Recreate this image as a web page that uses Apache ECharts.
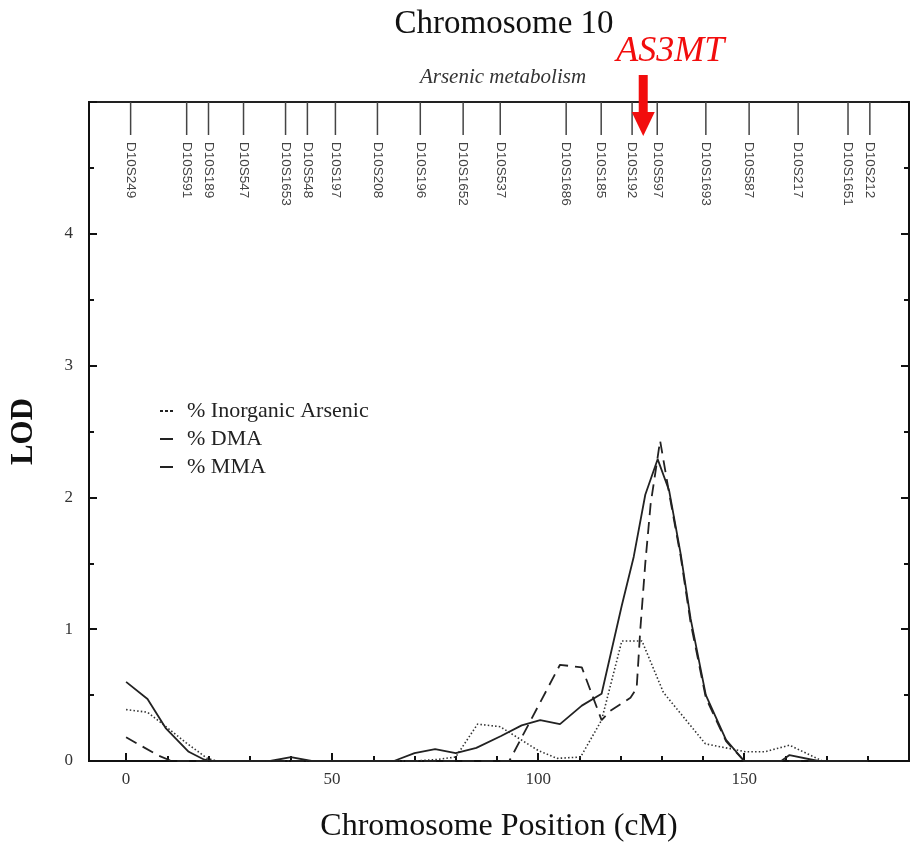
<!DOCTYPE html>
<html>
<head>
<meta charset="utf-8">
<script src="https://cdn.jsdelivr.net/npm/echarts@6/dist/echarts.min.js"></script>
<style>html,body{margin:0;padding:0;background:#fff;}#main{width:922px;height:848px;}</style>
</head>
<body>
<div id="main"></div>
<script>
// ---- data ----
const seriesNames = ['% Inorganic Arsenic', '% DMA', '% MMA'];
const inorganicPoints = [[0,0.39],[5.2,0.37],[9.3,0.27],[14.5,0.14],[19.7,0.02],[22,0],[30,0],[40,0],[50,0],[60,0],[70,0],[75,0.01],[80,0.03],[85.3,0.28],[90.8,0.26],[100,0.08],[104.6,0.02],[110.3,0.03],[115.4,0.31],[120.3,0.91],[125.2,0.91],[130.4,0.52],[140.6,0.13],[150.4,0.07],[155,0.07],[161,0.12],[169,0],[180,0]];
const dmaPoints = [[0,0.60],[5.2,0.47],[9.6,0.25],[15.2,0.07],[19,0.01],[21,0],[35,0],[40,0.03],[45,0],[65,0],[70,0.06],[75,0.09],[80,0.06],[85,0.10],[91,0.19],[96,0.27],[100.5,0.31],[105.3,0.28],[110.6,0.42],[115.4,0.51],[120.3,1.18],[123.2,1.55],[126,2.02],[129,2.29],[131.8,2.05],[134.6,1.57],[137,1.08],[140.7,0.50],[145.6,0.16],[150,0],[159,0],[161,0.045],[168,0],[180,0]];
const mmaPoints = [[0,0.18],[7.9,0.04],[11,0],[30,0],[60,0],[93,0],[105.3,0.73],[110.6,0.71],[115.4,0.31],[117.5,0.38],[122.4,0.48],[123.9,0.55],[124.8,1.0],[126,1.5],[127.3,1.95],[128.5,2.2],[129.6,2.43],[131.8,2.03],[134.6,1.55],[137,1.05],[140.7,0.48],[145.6,0.15],[150,0],[180,0]];
const markerNames = ['D10S249','D10S591','D10S189','D10S547','D10S1653','D10S548','D10S197','D10S208','D10S196','D10S1652','D10S537','D10S1686','D10S185','D10S192','D10S597','D10S1693','D10S587','D10S217','D10S1651','D10S212'];
const markerPositions = [1.1,14.7,20.0,28.5,38.7,44.0,50.8,61.0,71.4,81.8,90.8,106.8,115.3,122.8,128.9,140.7,151.2,163.1,175.2,180.5];
const geneName = 'AS3MT';
const genePosition = [125.5];
const xMajorTicks = [0,50,100,150];
const xMinorTicks = [10,20,30,40,60,70,80,90,110,120,130,140,160,170,180];
const yTickLabels = [0,1,2,3,4];

// ---- chart ----
const serif = 'Liberation Serif, Times New Roman, serif';
const sans = 'Liberation Sans, Arial, sans-serif';
const chart = echarts.init(document.getElementById('main'), null, {renderer: 'canvas'});
const XMIN = -9, XMAX = 190, YMAX = 5;
const dotIcon = 'path://M0,0h3v2h-3zM5,0h3v2h-3zM10,0h3v2h-3z';
const dashIcon = 'path://M0,0h13v2h-13z';

const option = {
  animation: false,
  backgroundColor: '#fff',
  title: [
    {text: 'Chromosome 10', left: 499, top: 3, textAlign: 'center',
     textStyle: {fontFamily: serif, fontSize: 33, fontWeight: 'normal', color: '#111'}},
    {text: 'Arsenic metabolism', left: 498, top: 62, textAlign: 'center',
     textStyle: {fontFamily: serif, fontSize: 21, fontStyle: 'italic', fontWeight: 'normal', color: '#333'}}
  ],
  legend: {
    data: [
      {name: seriesNames[0], icon: dotIcon},
      {name: seriesNames[1], icon: dashIcon},
      {name: seriesNames[2], icon: dashIcon}
    ],
    orient: 'vertical',
    left: 155, top: 395,
    itemWidth: 13, itemHeight: 2, itemGap: 6,
    itemStyle: {color: '#222'},
    textStyle: {fontFamily: serif, fontSize: 22, color: '#222', padding: [0, 0, 0, 9]}
  },
  grid: {left: 88, right: 13, top: 102, bottom: 77, show: true, borderColor: '#222', borderWidth: 2, containLabel: false},
  xAxis: [
    {type: 'value', min: XMIN, max: XMAX, position: 'bottom',
     name: 'Chromosome Position (cM)', nameLocation: 'middle', nameGap: 50,
     nameTextStyle: {fontFamily: serif, fontSize: 32, color: '#111'},
     axisLine: {show: true, onZero: false, lineStyle: {color: '#111', width: 2}},
     axisTick: {show: true, inside: true, length: 8, customValues: xMajorTicks, lineStyle: {color: '#111', width: 2}},
     axisLabel: {customValues: xMajorTicks, margin: 10, fontFamily: serif, fontSize: 17, color: '#333'},
     splitLine: {show: false}},
    {type: 'value', min: XMIN, max: XMAX, position: 'bottom',
     axisLine: {show: false, onZero: false},
     axisTick: {show: true, inside: true, length: 5, customValues: xMinorTicks, lineStyle: {color: '#111', width: 2}},
     axisLabel: {show: false},
     splitLine: {show: false}}
  ],
  yAxis: [
    {type: 'value', min: 0, max: YMAX, interval: 1, position: 'left',
     name: 'LOD', nameLocation: 'middle', nameGap: 50,
     nameTextStyle: {fontFamily: serif, fontSize: 31, fontWeight: 'bold', color: '#111'},
     axisLine: {show: true, onZero: false, lineStyle: {color: '#111', width: 2}},
     axisTick: {show: true, inside: true, length: 8, lineStyle: {color: '#111', width: 2}},
     minorTick: {show: true, splitNumber: 2, length: 5, lineStyle: {color: '#111', width: 2}},
     axisLabel: {margin: 16, fontFamily: serif, fontSize: 17, color: '#333',
       formatter: v => yTickLabels.indexOf(v) >= 0 ? String(v) : ''},
     splitLine: {show: false}},
    {type: 'value', min: 0, max: YMAX, interval: 1, position: 'right',
     axisLine: {show: true, onZero: false, lineStyle: {color: '#111', width: 2}},
     axisTick: {show: true, inside: true, length: 8, lineStyle: {color: '#111', width: 2}},
     minorTick: {show: true, splitNumber: 2, length: 5, lineStyle: {color: '#111', width: 2}},
     axisLabel: {show: false},
     splitLine: {show: false}}
  ],
  series: [
    {name: seriesNames[0], type: 'line', data: inorganicPoints, symbol: 'none', z: 3,
     lineStyle: {color: '#333', width: 1.6, type: [1.5, 2.2]}, itemStyle: {color: '#333'}},
    {name: seriesNames[1], type: 'line', data: dmaPoints, symbol: 'none', z: 4,
     lineStyle: {color: '#222', width: 1.8, type: 'solid'}, itemStyle: {color: '#222'}},
    {name: seriesNames[2], type: 'line', data: mmaPoints, symbol: 'none', z: 4,
     lineStyle: {color: '#222', width: 1.8, type: [12, 7]}, itemStyle: {color: '#222'}},
    {type: 'custom', clip: false, silent: true, z: 5,
     data: markerPositions.map((p, i) => [p, i]),
     renderItem: function (params, api) {
       const p = api.coord([api.value(0), YMAX]);
       const name = markerNames[api.value(1)];
       return {type: 'group', children: [
         {type: 'line', shape: {x1: p[0], y1: p[1], x2: p[0], y2: p[1] + 33},
          style: {stroke: '#444', lineWidth: 1.5}},
         {type: 'text', x: p[0], y: p[1] + 40, rotation: -Math.PI / 2,
          style: {text: name, fontFamily: sans, fontSize: 13.5, fill: '#444', align: 'left', verticalAlign: 'middle'}}
       ]};
     }},
    {type: 'custom', clip: false, silent: true, z: 6,
     data: genePosition.map(p => [p]),
     renderItem: function (params, api) {
       const p = api.coord([api.value(0), YMAX]);
       const x = p[0], top = p[1];
       return {type: 'group', children: [
         {type: 'rect', shape: {x: x - 4.5, y: top - 27, width: 9, height: 38}, style: {fill: '#f20d0d'}},
         {type: 'polygon', shape: {points: [[x - 11.5, top + 10], [x + 11.5, top + 10], [x, top + 34]]}, style: {fill: '#f20d0d'}},
         {type: 'text', x: x + 27, y: top - 50,
          style: {text: geneName, fontFamily: serif, fontSize: 36, fontStyle: 'italic', fill: '#f20d0d', align: 'center', verticalAlign: 'middle'}}
       ]};
     }}
  ]
};
chart.setOption(option);
</script>
</body>
</html>
